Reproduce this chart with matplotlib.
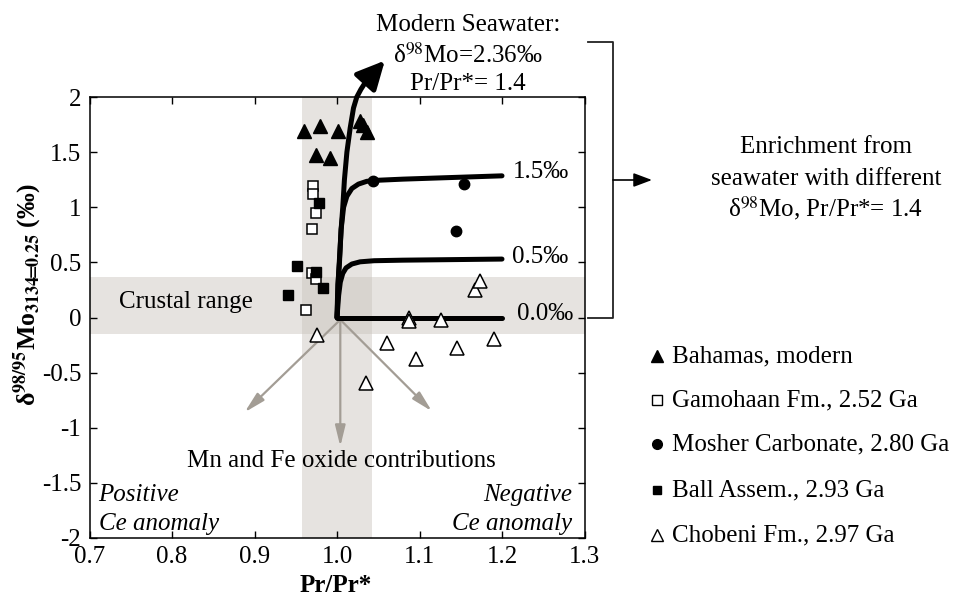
import matplotlib
matplotlib.use("Agg")
import matplotlib.pyplot as plt

plt.rcParams['font.family'] = ['Liberation Serif', 'DejaVu Serif']
plt.rcParams['mathtext.fontset'] = 'stix'
plt.rcParams['axes.unicode_minus'] = False

# samples
bahamas_x = [0.960, 0.979, 1.001, 1.028, 1.032, 1.036, 0.975, 0.992]
bahamas_y = [1.69, 1.74, 1.69, 1.78, 1.75, 1.68, 1.47, 1.45]
gamohaan_x = [0.971, 0.971, 0.974, 0.970, 0.970, 0.974, 0.963]
gamohaan_y = [1.19, 1.12, 0.95, 0.80, 0.40, 0.345, 0.066]
ball_x = [0.978, 0.951, 0.975, 0.983, 0.940]
ball_y = [1.04, 0.47, 0.41, 0.27, 0.20]
mosher_x = [1.044, 1.154, 1.144]
mosher_y = [1.24, 1.21, 0.785]
chobeni_x = [0.976, 1.035, 1.060, 1.087, 1.087, 1.096, 1.126, 1.145, 1.167, 1.173, 1.190]
chobeni_y = [-0.155, -0.59, -0.23, 0.0, -0.03, -0.375, -0.025, -0.275, 0.25, 0.33, -0.195]

# mixing curves
sw_x = [1.000, 1.001, 1.003, 1.005, 1.007, 1.009, 1.012, 1.016, 1.020, 1.024, 1.029, 1.035]
sw_y = [0.00, 0.30, 0.50, 0.80, 1.00, 1.25, 1.50, 1.72, 1.90, 2.00, 2.07, 2.14]
sw_tip = (1.058, 2.33)
c15_x = [1.000, 1.002, 1.005, 1.008, 1.012, 1.018, 1.026, 1.036, 1.050, 1.080, 1.120, 1.160, 1.200]
c15_y = [0.00, 0.40, 0.80, 1.00, 1.10, 1.17, 1.21, 1.235, 1.245, 1.255, 1.265, 1.275, 1.285]
c05_x = [1.000, 1.002, 1.004, 1.007, 1.011, 1.018, 1.028, 1.045, 1.080, 1.140, 1.200]
c05_y = [0.00, 0.20, 0.32, 0.40, 0.45, 0.485, 0.505, 0.515, 0.520, 0.525, 0.530]
c00_x = [1.000, 1.200]
c00_y = [0.00, 0.00]
curve_labels = ['1.5‰', '0.5‰', '0.0‰']

# oxide arrows
ox_origin = (1.004, -0.02)
ox_tips = [(0.888, -0.86), (1.004, -1.17), (1.115, -0.85)]

crust_band = (-0.15, 0.37)
pr_band = (0.957, 1.043)

xticks = [0.7, 0.8, 0.9, 1.0, 1.1, 1.2, 1.3]
yticks = [-2, -1.5, -1, -0.5, 0, 0.5, 1, 1.5, 2]

legend_labels = ['Bahamas, modern', 'Gamohaan Fm., 2.52 Ga', 'Mosher Carbonate, 2.80 Ga',
                 'Ball Assem., 2.93 Ga', 'Chobeni Fm., 2.97 Ga']

fs = 18
fig = plt.figure(figsize=(9.64, 6.0), dpi=100)
ax = fig.add_axes([89.5 / 964, 62 / 600, 495 / 964, 441 / 600])

band_c = '#c9c3bb'
ax.axvspan(*pr_band, color=band_c, alpha=0.45, lw=0, zorder=0)
ax.axhspan(*crust_band, color=band_c, alpha=0.45, lw=0, zorder=0)

gray = '#a39d95'
for tip in ox_tips:
    ax.annotate('', xy=tip, xytext=ox_origin,
                arrowprops=dict(arrowstyle='-|>,head_length=0.9,head_width=0.22',
                                color=gray, lw=1.6, mutation_scale=14,
                                shrinkA=0, shrinkB=0), zorder=1)

lw = 3.6
ax.plot(sw_x, sw_y, color='k', lw=lw, solid_capstyle='round', clip_on=False, zorder=3)
ax.annotate('', xy=sw_tip, xytext=(sw_x[-1], sw_y[-1]),
            arrowprops=dict(arrowstyle='-|>,head_length=0.85,head_width=0.42',
                            color='k', lw=lw, mutation_scale=20,
                            shrinkA=0, shrinkB=0),
            annotation_clip=False, zorder=3)
for cx, cy in [(c15_x, c15_y), (c05_x, c05_y), (c00_x, c00_y)]:
    ax.plot(cx, cy, color='k', lw=lw, solid_capstyle='round', zorder=3)

ax.text(1.213, 1.265, curve_labels[0], fontsize=fs, va='baseline')
ax.text(1.212, 0.49, curve_labels[1], fontsize=fs, va='baseline')
ax.text(1.218, -0.02, curve_labels[2], fontsize=fs, va='baseline')

ax.plot(bahamas_x, bahamas_y, '^', ms=10, color='k', zorder=4)
ax.plot(gamohaan_x, gamohaan_y, 's', ms=7.5, mfc='white', mec='k', mew=1.1, zorder=4)
ax.plot(ball_x, ball_y, 's', ms=7.5, color='k', zorder=5)
ax.plot(mosher_x, mosher_y, 'o', ms=7.5, color='k', zorder=4)
ax.plot(chobeni_x, chobeni_y, '^', ms=10, mfc='white', mec='k', mew=1.1, zorder=4)

ax.text(0.736, 0.09, 'Crustal range', fontsize=fs, va='baseline')
ax.text(1.005, -1.36, 'Mn and Fe oxide contributions', fontsize=fs, va='baseline', ha='center')
ax.text(0.711, -1.665, 'Positive', fontsize=fs, style='italic', va='baseline')
ax.text(0.711, -1.93, 'Ce anomaly', fontsize=fs, style='italic', va='baseline')
ax.text(1.285, -1.665, 'Negative', fontsize=fs, style='italic', va='baseline', ha='right')
ax.text(1.285, -1.93, 'Ce anomaly', fontsize=fs, style='italic', va='baseline', ha='right')

ax.set_xlim(0.7, 1.3)
ax.set_ylim(-2, 2)
ax.set_xticks(xticks)
ax.set_xticklabels([f'{v:.1f}' for v in xticks])
ax.set_yticks(yticks)
ax.set_yticklabels([f'{v:g}' for v in yticks])
ax.tick_params(direction='in', length=5, width=1, labelsize=fs, top=True, right=True, pad=6)
for s in ax.spines.values():
    s.set_linewidth(1.1)

fig.text(28 / 964, 1 - 295 / 600,
         r'δ$^{\mathbf{98/95}}$Mo$_{\mathbf{3134\!\!=\!\!0.25}}$ (‰)',
         rotation=90, ha='center', va='center', fontsize=18.5, fontweight='bold')
fig.text(336 / 964, 1 - 586 / 600, 'Pr/Pr*', ha='center', va='center',
         fontsize=fs, fontweight='bold')

# annotations outside the axes, in pixel coordinates
ov = fig.add_axes([0, 0, 1, 1], zorder=-1)
ov.set_xlim(0, 964)
ov.set_ylim(600, 0)
ov.axis('off')

ov.text(468, 31, 'Modern Seawater:', fontsize=fs, ha='center', va='baseline')
ov.text(468, 63, 'δ$^{98}$Mo=2.36‰', fontsize=fs, ha='center', va='baseline')
ov.text(468, 90, 'Pr/Pr*= 1.4', fontsize=fs, ha='center', va='baseline')

ov.plot([588, 613, 613, 588], [42, 42, 318, 318], color='#222222', lw=1.3)
ov.annotate('', xy=(652, 180), xytext=(613, 180),
            arrowprops=dict(arrowstyle='-|>,head_length=0.8,head_width=0.3',
                            color='k', lw=1.2, mutation_scale=14, shrinkA=0, shrinkB=0))
ov.text(826, 153, 'Enrichment from', fontsize=fs, ha='center', va='baseline')
ov.text(826, 185, 'seawater with different', fontsize=fs, ha='center', va='baseline')
ov.text(826, 216, 'δ$^{98}$Mo, Pr/Pr*= 1.4', fontsize=fs, ha='center', va='baseline')

leg_y = [354, 398, 442, 488, 533]
leg_style = [dict(marker='^', ms=8, color='k'),
             dict(marker='s', ms=6.5, mfc='white', mec='k', mew=1.0),
             dict(marker='o', ms=7, color='k'),
             dict(marker='s', ms=6, color='k'),
             dict(marker='^', ms=8, mfc='white', mec='k', mew=1.0)]
for yy, lab, st in zip(leg_y, legend_labels, leg_style):
    ov.plot([657], [yy + 2], ls='none', **st)
    ov.text(672, yy + 8, lab, fontsize=fs, va='baseline')

fig.savefig('out.png', dpi=100)
